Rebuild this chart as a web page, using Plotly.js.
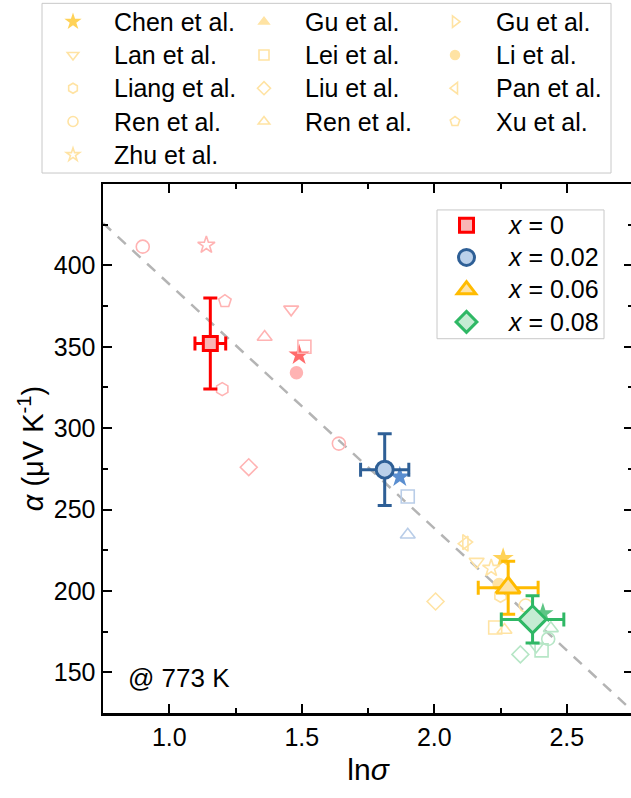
<!DOCTYPE html>
<html><head><meta charset="utf-8">
<script src="https://cdn.plot.ly/plotly-3.0.1.min.js"></script>
<style>html,body{margin:0;padding:0;overflow:hidden;background:#fff}#chart{width:634px;height:798px}</style>
</head><body><div id="chart"></div><script>
// ---- This work (x = 0, 0.02, 0.06, 0.08) ----
const sampleLabels = ['0', '0.02', '0.06', '0.08'];
const sampleLnSigma = [1.155, 1.813, 2.279, 2.371];
const sampleAlpha = [352, 274.5, 202, 182.5];
const sampleLnSigmaErr = [0.058, 0.091, 0.113, 0.118];
const sampleAlphaErr = [28, 22, 16.3, 14.5];

// ---- Literature data (group: 0 -> x=0, 1 -> 0.02, 2 -> 0.06, 3 -> 0.08) ----
const chenX = [1.49, 1.87, 2.26, 2.41], chenY = [345, 270, 220, 186], chenG = [0, 1, 2, 3];
const guUpX = [], guUpY = [], guUpG = [];
const guRightX = [2.12], guRightY = [230], guRightG = [2];
const lanX = [1.46, 2.16, 2.385], lanY = [373, 218, 166], lanG = [0, 2, 3];
const leiX = [1.51, 1.90, 2.23, 2.405], leiY = [350, 258, 177.5, 163.5], leiG = [0, 1, 2, 3];
const liX = [1.48, 2.245], liY = [334, 204], liG = [0, 2];
const liangX = [1.20, 2.25], liangY = [324, 197], liangG = [0, 2];
const liuX = [1.30, 2.005, 2.325], liuY = [276, 193.5, 161], liuG = [0, 2, 3];
const panX = [2.115], panY = [229], panG = [2];
const renCX = [0.90, 1.64, 2.345, 2.43], renCY = [411.5, 290.5, 191, 170.5], renCG = [0, 0, 2, 3];
const renTX = [1.36, 1.90, 2.265, 2.44], renTY = [356, 234.5, 176, 177], renTG = [0, 1, 2, 3];
const xuX = [1.21], xuY = [378], xuG = [0];
const zhuX = [1.14, 2.215], zhuY = [412.5, 214], zhuG = [0, 2];

// ---- Guide line ----
const fitX = [0.75, 2.75], fitY = [426, 126];

// ---- Axis ticks ----
const xTicks = [1.0, 1.5, 2.0, 2.5];
const xMinorTicks = [1.25, 1.75, 2.25];
const yTicks = [150, 200, 250, 300, 350, 400];
const yMinorTicks = [175, 225, 275, 325, 375, 425];

// ---- Styles ----
const lightCol = ['#ffb3b3', '#b9cde8', '#ffe3a3', '#b6e6c6'];
const chenCol = ['#ff6b6b', '#5a8ed0', '#ffd257', '#5ec585'];
const mainStroke = ['#ff0000', '#2e5f96', '#ffbb00', '#2fb865'];
const mainFill = ['#f9b6b6', '#bad0ea', '#fde3a8', '#c5ecd3'];
const mainSymbol = ['square', 'circle', 'triangle-up', 'diamond'];
const mainSize = [14, 17, 21, 21];
const FONT = 'Liberation Sans, Arial, sans-serif';
const big = t => '<span style="font-size:25px">' + t + '</span>';

const refs = [
  {name: 'Chen et al.', x: chenX, y: chenY, g: chenG, sym: 'star', filled: true},
  {name: 'Gu et al.', x: guUpX, y: guUpY, g: guUpG, sym: 'triangle-up', half: true},
  {name: 'Gu et al.', x: guRightX, y: guRightY, g: guRightG, sym: 'triangle-right-open'},
  {name: 'Lan et al.', x: lanX, y: lanY, g: lanG, sym: 'triangle-down-open'},
  {name: 'Lei et al.', x: leiX, y: leiY, g: leiG, sym: 'square-open'},
  {name: 'Li et al.', x: liX, y: liY, g: liG, sym: 'circle', half: true},
  {name: 'Liang et al.', x: liangX, y: liangY, g: liangG, sym: 'hexagon-open'},
  {name: 'Liu et al.', x: liuX, y: liuY, g: liuG, sym: 'diamond-open'},
  {name: 'Pan et al.', x: panX, y: panY, g: panG, sym: 'triangle-left-open'},
  {name: 'Ren et al.', x: renCX, y: renCY, g: renCG, sym: 'circle-open'},
  {name: 'Ren et al.', x: renTX, y: renTY, g: renTG, sym: 'triangle-up-open'},
  {name: 'Xu et al.', x: xuX, y: xuY, g: xuG, sym: 'pentagon-open'},
  {name: 'Zhu et al.', x: zhuX, y: zhuY, g: zhuG, sym: 'star-open'}
];

const traces = [];
traces.push({x: fitX, y: fitY, mode: 'lines', showlegend: false, hoverinfo: 'skip',
  line: {color: '#b4b4b4', width: 2.5, dash: '11px,9px'}});

function refMarker(r, colors, size) {
  if (r.filled) return {symbol: r.sym, size: size + 3, color: colors, line: {width: 0}};
  if (r.half) return {symbol: r.sym, size: size - 1, color: colors, line: {width: 1.5, color: colors}};
  return {symbol: r.sym, size: size, color: colors, line: {width: 1.6, color: colors}};
}

refs.forEach(r => {
  const cols = r.g.map(k => r.filled ? chenCol[k] : lightCol[k]);
  traces.push({x: r.x, y: r.y, mode: 'markers', showlegend: false, name: r.name,
    marker: refMarker(r, cols, 13)});
});
// legend entries for the literature (pale yellow symbols, as in the reference)
refs.forEach(r => {
  traces.push({x: [null], y: [null], mode: 'markers', name: big(r.name), legend: 'legend',
    marker: refMarker(r, r.filled ? chenCol[2] : lightCol[2], 10)});
});

sampleLabels.forEach((lab, i) => {
  traces.push({x: [sampleLnSigma[i]], y: [sampleAlpha[i]], mode: 'markers',
    name: big('<i>x</i> = ' + lab), legend: 'legend2',
    marker: {symbol: mainSymbol[i], size: mainSize[i], color: mainFill[i], line: {color: mainStroke[i], width: 3}},
    error_x: {type: 'data', array: [sampleLnSigmaErr[i]], color: mainStroke[i], thickness: 3, width: 7},
    error_y: {type: 'data', array: [sampleAlphaErr[i]], color: mainStroke[i], thickness: 3, width: 7}
  });
});

const axisCommon = {showgrid: false, zeroline: false, showline: true, linecolor: '#000', linewidth: 2.5,
  mirror: 'allticks', ticks: 'inside', ticklen: 9, tickwidth: 2, tickcolor: '#000',
  tickfont: {family: FONT, size: 25, color: '#000'}};

// pixel -> paper helpers for the plot area (l=103, r=633, t=183, b=713)
const px = v => (v - 103) / 530, py = v => (713 - v) / 530;

const layout = {
  width: 634, height: 798,
  margin: {l: 103, r: 1, t: 183, b: 85},
  paper_bgcolor: '#fff', plot_bgcolor: '#fff',
  font: {family: FONT, size: 22, color: '#000'},
  xaxis: Object.assign({}, axisCommon, {range: [0.75, 2.75], tickmode: 'array', tickvals: xTicks,
    ticktext: xTicks.map(v => v.toFixed(1)),
    minor: {ticks: 'inside', ticklen: 5, tickwidth: 2, tickcolor: '#000', tickmode: 'array', tickvals: xMinorTicks},
    title: {text: 'ln<i>σ</i>', font: {family: FONT, size: 30}, standoff: 10}}),
  yaxis: Object.assign({}, axisCommon, {range: [125, 450], tickmode: 'array', tickvals: yTicks,
    ticklabelstandoff: 0,
    minor: {ticks: 'inside', ticklen: 5, tickwidth: 2, tickcolor: '#000', tickmode: 'array', tickvals: yMinorTicks},
    title: {text: '<i>α</i> (μV K<sup>-1</sup>)', font: {family: FONT, size: 29}, standoff: 2}}),
  legend: {orientation: 'h', x: px(32), y: py(-1), xanchor: 'left', yanchor: 'top',
    borderwidth: 0, bgcolor: 'rgba(0,0,0,0)',
    font: {family: FONT, size: 23.3, color: '#000'}, itemwidth: 72,
    entrywidthmode: 'pixels', entrywidth: 104, traceorder: 'normal'},
  legend2: {x: px(424), y: py(204), xanchor: 'left', yanchor: 'top',
    borderwidth: 0, bgcolor: 'rgba(0,0,0,0)',
    font: {family: FONT, size: 22.5, color: '#000'}, itemwidth: 75, traceorder: 'normal'},
  shapes: [
    {type: 'rect', xref: 'paper', yref: 'paper', x0: px(42), x1: px(611), y0: py(2), y1: py(172),
      line: {color: '#c8c8c8', width: 1}, fillcolor: '#fff', layer: 'above'},
    {type: 'rect', xref: 'paper', yref: 'paper', x0: px(437), x1: px(604), y0: py(209), y1: py(338),
      line: {color: '#c8c8c8', width: 1}, fillcolor: '#fff', layer: 'above'}
  ],
  annotations: [{xref: 'paper', yref: 'paper', x: px(126), y: py(678), xanchor: 'left', yanchor: 'middle',
    text: '@ 773 K', showarrow: false, font: {family: FONT, size: 26, color: '#000'}}]
};

Plotly.newPlot('chart', traces, layout, {displayModeBar: false, staticPlot: true});
</script></body></html>
